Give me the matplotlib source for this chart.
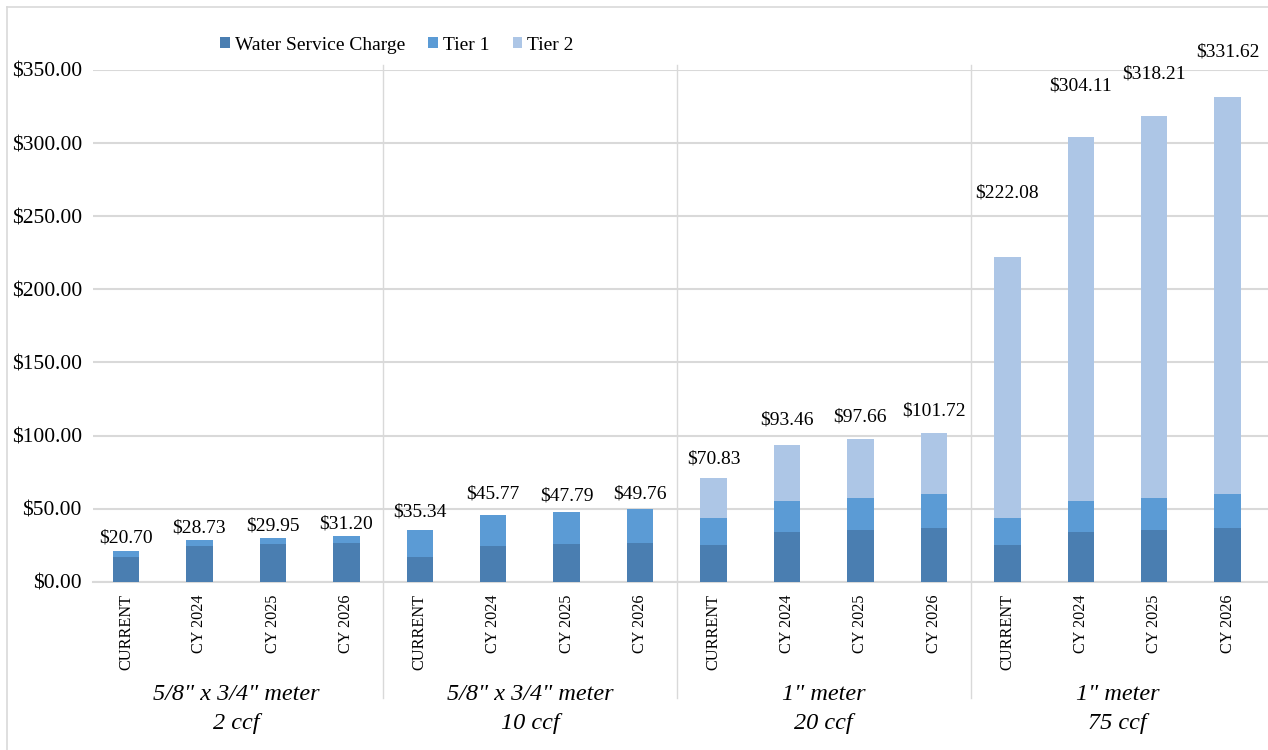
import matplotlib.pyplot as plt
from matplotlib.lines import Line2D
from matplotlib.ticker import FuncFormatter

# values
years = ['CURRENT', 'CY 2024', 'CY 2025', 'CY 2026']
groups = ['5/8" x 3/4" meter\n2 ccf', '5/8" x 3/4" meter\n10 ccf',
          '1" meter\n20 ccf', '1" meter\n75 ccf']

service = [17.15, 24.4, 25.6, 26.6,
           17.15, 24.4, 25.6, 26.6,
           25.2, 34.0, 35.4, 36.9,
           25.2, 34.0, 35.4, 36.9]
tier1 = [3.55, 4.33, 4.35, 4.60,
         18.19, 21.37, 22.19, 23.16,
         18.19, 21.37, 22.19, 23.16,
         18.19, 21.37, 22.19, 23.16]
tier2 = [0, 0, 0, 0,
         0, 0, 0, 0,
         27.44, 38.09, 40.07, 41.66,
         178.69, 248.74, 260.62, 271.56]
totals = [20.70, 28.73, 29.95, 31.20,
          35.34, 45.77, 47.79, 49.76,
          70.83, 93.46, 97.66, 101.72,
          222.08, 304.11, 318.21, 331.62]

# how far each total label sits above its bar (in $), as placed in the original
label_gap = [9, 8, 8, 8,
             12, 14, 11, 10,
             13, 17, 15, 15,
             44, 35, 29, 31]

C_SERVICE = '#4a7eb1'
C_TIER1 = '#5b9bd5'
C_TIER2 = '#adc6e6'
GRID = '#d9d9d9'


def plot_bill_comparison():
    plt.rcParams['font.family'] = ['Liberation Serif', 'DejaVu Serif']
    fig = plt.figure(figsize=(12.68, 7.5), dpi=100)
    ax = fig.add_axes([93 / 1268, 1 - 581.7 / 750, 1175 / 1268, 511.7 / 750])

    x = list(range(len(totals)))
    labels = years * len(groups)
    bottom2 = [s + t for s, t in zip(service, tier1)]

    w = 0.36
    ax.bar(x, service, w, color=C_SERVICE, label='Water Service Charge', zorder=3)
    ax.bar(x, tier1, w, bottom=service, color=C_TIER1, label='Tier 1', zorder=3)
    ax.bar(x, tier2, w, bottom=bottom2, color=C_TIER2, label='Tier 2', zorder=3)

    for xi, tot, gap in zip(x, totals, label_gap):
        ax.text(xi, tot + gap, '${:,.2f}'.format(tot), ha='center', va='center',
                fontsize=14, clip_on=False)

    ax.set_xlim(-0.45, 15.55)
    ax.set_ylim(0, 350)
    ax.set_yticks(range(0, 351, 50))
    ax.yaxis.set_major_formatter(FuncFormatter(lambda v, p: '${:,.2f}'.format(v)))
    ax.set_xticks(x)
    ax.set_xticklabels(labels, rotation=90, fontsize=11.7)
    ax.tick_params(axis='both', length=0)
    ax.tick_params(axis='x', pad=9)
    ax.tick_params(axis='y', labelsize=15.5, pad=8)
    ax.grid(axis='y', color=GRID, linewidth=1.5)
    ax.set_axisbelow(True)
    for side in ['left', 'right', 'top']:
        ax.spines[side].set_visible(False)
    ax.spines['bottom'].set_color(GRID)
    ax.spines['bottom'].set_linewidth(1.5)

    # group separators and group names
    tr = ax.get_xaxis_transform()
    for i, name in enumerate(groups):
        if i > 0:
            ax.plot([4 * i - 0.5] * 2, [1.01, -0.227], color=GRID, linewidth=1,
                    transform=tr, clip_on=False)
        ax.text(4 * i + 1.5, -0.2, name, transform=tr, ha='center', va='top',
                fontsize=17.5, style='italic', linespacing=1.5)

    fig.legend(loc='center', bbox_to_anchor=(397 / 1268, 1 - 45 / 750), ncol=3,
               frameon=False, fontsize=14, handlelength=0.5, handleheight=0.5,
               handletextpad=0.25, columnspacing=1.2)

    # chart area border
    fig.add_artist(Line2D([7 / 1268, 7 / 1268], [0, 1 - 7 / 750], color=GRID,
                          linewidth=1.2))
    fig.add_artist(Line2D([7 / 1268, 1], [1 - 7 / 750, 1 - 7 / 750], color=GRID,
                          linewidth=1.2))

    plt.savefig('out.png', dpi=100)


if __name__ == '__main__':
    plot_bill_comparison()
